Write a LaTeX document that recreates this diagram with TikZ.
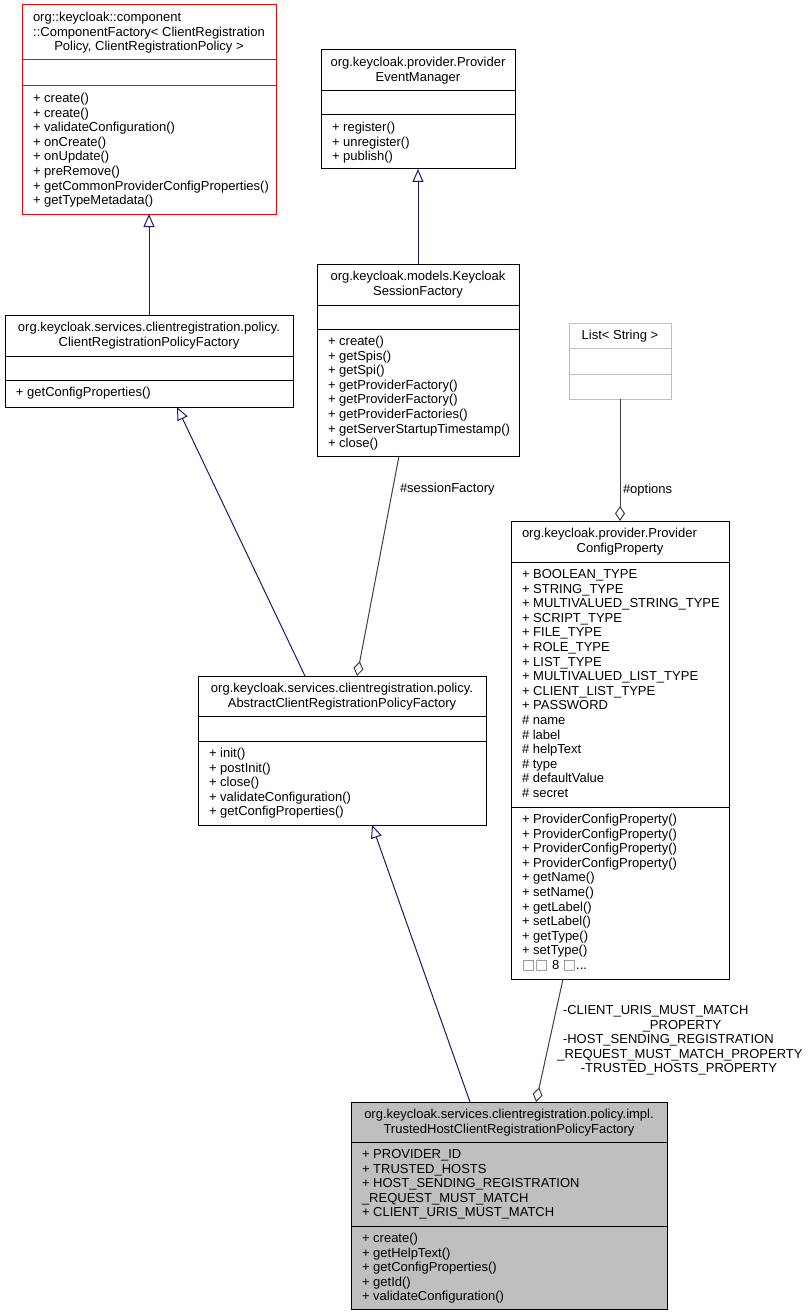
\documentclass[tikz,border=0pt]{standalone}
\usepackage{fontspec}
\setmainfont{Liberation Sans}
\newfontfamily\dejavu{DejaVu Sans}
\usetikzlibrary{arrows.meta}
\definecolor{edgeblue}{HTML}{191970}
\definecolor{aggcol}{HTML}{404040}
\definecolor{grayfill}{HTML}{BFBFBF}
\definecolor{extgray}{HTML}{BFBFBF}
\newcommand\fs{\fontsize{13}{14.6}\selectfont}
\newcommand\R{\rule{0pt}{10pt}}
\newcommand\tofu{{\dejavu\color{gray}\fontsize{14}{14.6}\selectfont □}}
\begin{document}
\begin{tikzpicture}[x=1pt,y=-1pt,
  box/.style={draw=black, line width=1pt, fill=white, inner sep=0pt, outer sep=0pt, anchor=north west},
  sepline/.style={draw=black, line width=1pt},
  txt/.style={inner sep=0pt, outer sep=0pt, align=left, font=\fs, anchor=north west},
  ttl/.style={inner sep=0pt, outer sep=0pt, align=center, font=\fs, anchor=north},
  lbl/.style={inner sep=0pt, outer sep=0pt, font=\fs},
  inh/.style={draw=edgeblue, line width=1pt, -{Triangle[open, length=13pt, width=11pt]}},
  aggr/.style={draw=aggcol, line width=1pt, -{Diamond[open, length=15pt, width=10pt]}}
]
\fill[white] (0,0) rectangle (807,1316);
\useasboundingbox (0,0) rectangle (807,1316);

% ---------- Box 1: ComponentFactory (red) ----------
\node[box, draw=red, minimum width=254pt, minimum height=209pt] (b1) at (22,5) {};
\draw[sepline, draw=red] (22,60) -- (276,60);
\draw[sepline, draw=red] (22,86) -- (276,86);
\node[txt] (b1t1) at (33,11.5) {\R org::keycloak::component};
\node[ttl] (b1t2) at (149,26.1) {\R ::ComponentFactory< ClientRegistration\\Policy, ClientRegistrationPolicy >};
\node[txt] (b1m) at (33,92.5) {\R+ create()\\+ create()\\+ validateConfiguration()\\+ onCreate()\\+ onUpdate()\\+ preRemove()\\+ getCommonProviderConfigProperties()\\+ getTypeMetadata()};

% ---------- Box 2: ProviderEventManager ----------
\node[box, minimum width=194pt, minimum height=119pt] (b2) at (321,50) {};
\draw[sepline] (321,91) -- (515,91);
\draw[sepline] (321,115) -- (515,115);
\node[ttl] (b2t) at (418,56.5) {\R org.keycloak.provider.Provider\\EventManager};
\node[txt] (b2m) at (332,121.5) {\R+ register()\\+ unregister()\\+ publish()};

% ---------- Box 3: KeycloakSessionFactory ----------
\node[box, minimum width=202pt, minimum height=192pt] (b3) at (317,264) {};
\draw[sepline] (317,305) -- (519,305);
\draw[sepline] (317,329) -- (519,329);
\node[ttl] (b3t) at (418,270.5) {\R org.keycloak.models.Keycloak\\SessionFactory};
\node[txt] (b3m) at (328,335.5) {\R+ create()\\+ getSpis()\\+ getSpi()\\+ getProviderFactory()\\+ getProviderFactory()\\+ getProviderFactories()\\+ getServerStartupTimestamp()\\+ close()};

% ---------- Box 4: ClientRegistrationPolicyFactory ----------
\node[box, minimum width=288pt, minimum height=92pt] (b4) at (5,315) {};
\draw[sepline] (5,356) -- (293,356);
\draw[sepline] (5,380) -- (293,380);
\node[ttl] (b4t) at (149,321.5) {\R org.keycloak.services.clientregistration.policy.\\ClientRegistrationPolicyFactory};
\node[txt] (b4m) at (16,386.5) {\R+ getConfigProperties()};

% ---------- Box 5: List< String > ----------
\node[box, draw=extgray, minimum width=102pt, minimum height=76pt] (b5) at (569,323) {};
\draw[sepline, draw=extgray] (569,348) -- (671,348);
\draw[sepline, draw=extgray] (569,374) -- (671,374);
\node[ttl] (b5t) at (620,329.5) {\R List< String >};

% ---------- Box 6: AbstractClientRegistrationPolicyFactory ----------
\node[box, minimum width=288pt, minimum height=149pt] (b6) at (198,676) {};
\draw[sepline] (198,716) -- (486,716);
\draw[sepline] (198,741) -- (486,741);
\node[ttl] (b6t) at (342,682.5) {\R org.keycloak.services.clientregistration.policy.\\AbstractClientRegistrationPolicyFactory};
\node[txt] (b6m) at (209,747.5) {\R+ init()\\+ postInit()\\+ close()\\+ validateConfiguration()\\+ getConfigProperties()};

% ---------- Box 7: ProviderConfigProperty ----------
\node[box, minimum width=218pt, minimum height=458pt] (b7) at (511,521) {};
\draw[sepline] (511,562) -- (729,562);
\draw[sepline] (511,807) -- (729,807);
\node[txt] (b7t1) at (522,527.5) {\R org.keycloak.provider.Provider};
\node[ttl] (b7t2) at (620,542.1) {\R ConfigProperty};
\node[txt] (b7a) at (522,568.5) {\R+ BOOLEAN\_TYPE\\+ STRING\_TYPE\\+ MULTIVALUED\_STRING\_TYPE\\+ SCRIPT\_TYPE\\+ FILE\_TYPE\\+ ROLE\_TYPE\\+ LIST\_TYPE\\+ MULTIVALUED\_LIST\_TYPE\\+ CLIENT\_LIST\_TYPE\\+ PASSWORD\\\# name\\\# label\\\# helpText\\\# type\\\# defaultValue\\\# secret};
\node[txt] (b7m) at (522,813.5) {\R+ ProviderConfigProperty()\\+ ProviderConfigProperty()\\+ ProviderConfigProperty()\\+ ProviderConfigProperty()\\+ getName()\\+ setName()\\+ getLabel()\\+ setLabel()\\+ getType()\\+ setType()\\\tofu\tofu{} 8 \tofu...};

% ---------- Box 8: TrustedHostClientRegistrationPolicyFactory ----------
\node[box, fill=grayfill, minimum width=316pt, minimum height=207pt] (b8) at (351,1102) {};
\draw[sepline] (351,1142) -- (667,1142);
\draw[sepline] (351,1226) -- (667,1226);
\node[ttl] (b8t) at (509,1108.5) {\R org.keycloak.services.clientregistration.policy.impl.\\TrustedHostClientRegistrationPolicyFactory};
\node[txt] (b8a) at (362,1148.5) {\R+ PROVIDER\_ID\\+ TRUSTED\_HOSTS\\+ HOST\_SENDING\_REGISTRATION\\\_REQUEST\_MUST\_MATCH\\+ CLIENT\_URIS\_MUST\_MATCH};
\node[txt] (b8m) at (362,1232.5) {\R+ create()\\+ getHelpText()\\+ getConfigProperties()\\+ getId()\\+ validateConfiguration()};

% ---------- Inheritance connectors ----------
\draw[inh] ([xshift=144pt]b4.north west) -- ([xshift=127pt]b1.south west);
\draw[inh] ([xshift=101pt]b3.north west) -- ([xshift=97pt]b2.south west);
\draw[inh] ([xshift=107pt]b6.north west) -- ([xshift=172pt]b4.south west);
\draw[inh] ([xshift=119pt]b8.north west) -- ([xshift=174pt]b6.south west);

% ---------- Aggregation connectors ----------
\draw[aggr] ([xshift=82pt]b3.south west) -- ([xshift=159pt]b6.north west);
\draw[aggr] ([xshift=51pt]b5.south west) -- ([xshift=109pt]b7.north west);
\draw[aggr] ([xshift=52pt]b7.south west) -- ([xshift=185pt]b8.north west);

% ---------- Edge labels ----------
\node[lbl, anchor=base west] (l1) at (400,492.5) {\#sessionFactory};
\node[lbl, anchor=base west] (l2) at (623,493.5) {\#options};
\node[lbl, anchor=base west] (g1) at (563,1014.5) {-CLIENT\_URIS\_MUST\_MATCH};
\node[lbl, anchor=base] (g2) at (682,1029.1) {\_PROPERTY};
\node[lbl, anchor=base west] (g3) at (563,1043.7) {-HOST\_SENDING\_REGISTRATION};
\node[lbl, anchor=base] (g4) at (680,1058.3) {\_REQUEST\_MUST\_MATCH\_PROPERTY};
\node[lbl, anchor=base] (g5) at (679,1072.9) {-TRUSTED\_HOSTS\_PROPERTY};
\end{tikzpicture}
\end{document}
